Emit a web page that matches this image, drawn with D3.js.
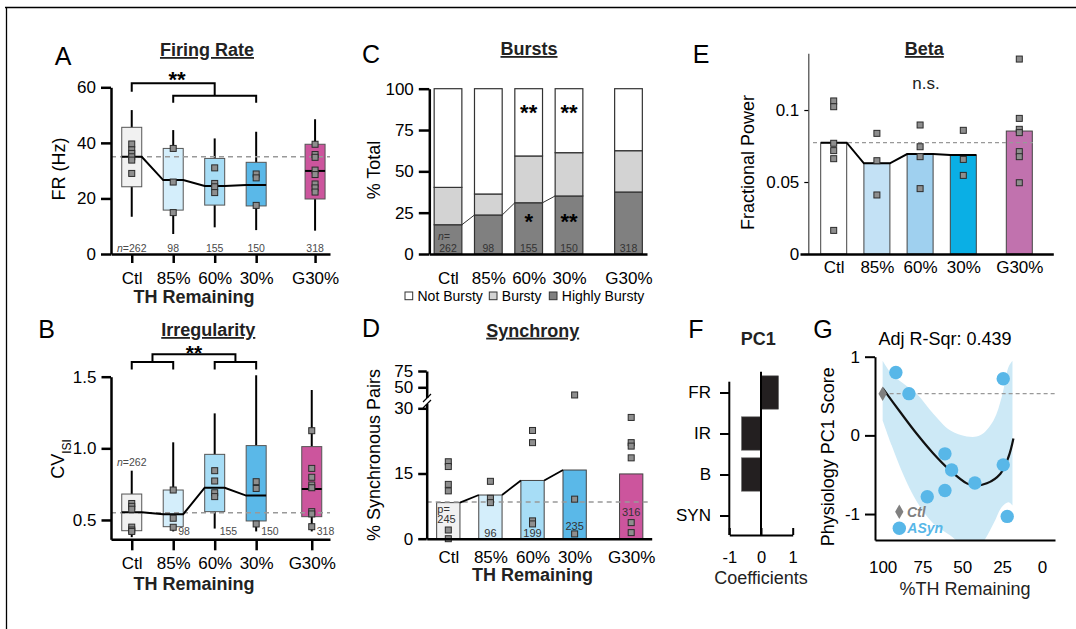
<!DOCTYPE html>
<html>
<head>
<meta charset="utf-8">
<title>TH remaining physiology</title>
<script src="https://cdn.jsdelivr.net/npm/d3@7/dist/d3.min.js"></script>
<style>
  body { margin: 0; background: #fff; }
  svg text { font-family: "Liberation Sans", Arial, Helvetica, sans-serif; }
</style>
</head>
<body>
<svg id="fig" width="1076" height="629"></svg>
<script>
// ---- values ----
var groups = ["Ctl", "85%", "60%", "30%", "G30%"];
var cellN = [262, 98, 155, 150, 318];

// A: firing rate (Hz)
var frLo  = [13.4, 7.2, 9.6, 8.6, 8.4];
var frQ1  = [24.2, 15.8, 17.6, 17.3, 19.8];
var frMed = [35.0, 26.6, 24.5, 24.8, 29.9];
var frQ3  = [45.6, 38.0, 34.4, 33.0, 39.5];
var frHi  = [51.8, 44.6, 41.6, 44.0, 48.5];
var frDots = [[39.6, 37.5, 36.2, 35, 33.8, 29], [38, 25.9, 14.9], [31, 25.4, 24.2, 22.1],
              [28.8, 27.4, 17.5], [39.5, 35.8, 34.8, 30.2, 28.6, 25.2, 23.8, 22.3]];
var frRef = 35;

// B: CV of ISI
var cvLo  = [0.38, 0.42, 0.44, 0.42, 0.42];
var cvQ1  = [0.425, 0.453, 0.558, 0.493, 0.523];
var cvMed = [0.553, 0.54, 0.725, 0.67, 0.716];
var cvQ3  = [0.681, 0.709, 0.958, 1.019, 1.012];
var cvHi  = [0.844, 1.042, 1.244, 1.51, 1.407];
var cvDots = [[0.615, 0.595, 0.575, 0.45, 0.43, 0.42], [0.709, 0.512, 0.449], [0.844, 0.772, 0.69, 0.663],
              [0.767, 0.72, 0.472], [1.123, 0.86, 0.798, 0.744, 0.725, 0.558, 0.542, 0.453]];
var cvRef = 0.55;

// C: burst classes (% of cells)
var highlyBursty = [17.7, 23.6, 31.0, 35.1, 37.5];
var bursty       = [22.6, 12.7, 28.3, 26.2, 25.0];
var notBursty    = [59.7, 63.7, 40.7, 38.7, 37.5];
var burstClasses = ["Not Bursty", "Bursty", "Highly Bursty"];

// D: synchronous pairs (%)
var syncMean = [8.3, 10.05, 13.4, 15.8, 14.9];
var syncDots = [[17.7, 16.6, 12.5, 11, 2, 0], [13.2, 9.3, 8.3], [24.9, 22.1, 4.1, 3.4],
                [42.7, 9.1, 1.1], [27.9, 22.1, 21.3, 18.6, 3.7, 1.4]];
var pairN = [245, 96, 199, 235, 316];
var syncRef = 8.44;

// E: beta fractional power
var betaMean = [0.0773, 0.063, 0.0694, 0.0688, 0.0854];
var betaDots = [[0.1063, 0.1023, 0.0769, 0.0718, 0.0662, 0.0164], [0.0838, 0.0648, 0.041],
                [0.0896, 0.0745, 0.0676, 0.0454], [0.0859, 0.0657, 0.0546],
                [0.1354, 0.0942, 0.0866, 0.0843, 0.0711, 0.0676, 0.0495]];
var betaRef = 0.0773;

// F: PC1 coefficients
var pcVars = ["FR", "IR", "B", "SYN"];
var pcCoef = [0.55, -0.61, -0.61, 0];

// G: PC1 score vs %TH remaining
var ctlPct = [100];
var ctlScore = [0.53];
var asynPct   = [91.7, 83.5, 60.9, 56.7, 60.9, 72.0, 42.1, 24.3, 24.3, 21.8];
var asynScore = [0.80, 0.53, -0.235, -0.44, -0.70, -0.78, -0.605, 0.72, -0.375, -1.03];
var fitPct   = [100, 89.1, 78.6, 68.2, 57.7, 47.2, 42, 34.6, 26.2, 21, 17.9];
var fitScore = [0.6, 0.30, 0.02, -0.23, -0.445, -0.61, -0.64, -0.61, -0.49, -0.275, -0.04];
var bandPct  = [100, 94.3, 87, 78.6, 68.2, 57.7, 47.2, 38.8, 30.4, 25.2, 21, 18.5];
var bandHi   = [0.95, 0.78, 0.66, 0.53, 0.275, 0.064, -0.013, 0, 0.19, 0.49, 0.87, 0.95];
var bandLo   = [0.19, -0.13, -0.5, -0.84, -1.12, -1.27, -1.42, -1.39, -1.12, -0.91, -0.85, -0.89];
var adjR2 = 0.439;

// ---- styles ----
var boxFill  = ["#f1f1f1", "#d4eefb", "#a7ddf6", "#5ab8e8", "#cc559d"];
var betaFill = ["#ffffff", "#c3e1f5", "#9fd0ef", "#0aafe5", "#c172ae"];
var burstFill = {"Not Bursty": "#ffffff", "Bursty": "#d3d3d3", "Highly Bursty": "#808080"};
var asynBlue = "#58b7e8";
var FS = 17;
var plainNum = function (d) { return String(d); };

var svg = d3.select("#fig");

// figure frame (top and left rules)
svg.append("path")
    .attr("d", "M5,7.5 H1076 M6.5,7 V629")
    .attr("fill", "none").attr("stroke", "#000").attr("stroke-width", 1.3);

function styleAxis(sel, lw, fs) {
    sel.attr("font-family", null).attr("font-size", fs || FS);
    sel.select(".domain").attr("stroke", "#000").attr("stroke-width", lw);
    sel.selectAll(".tick line").attr("stroke", "#000").attr("stroke-width", lw);
    sel.selectAll(".tick text").attr("fill", "#000");
    return sel;
}

function panelLetter(t, x, y) {
    svg.append("text").attr("x", x).attr("y", y).attr("text-anchor", "middle")
        .attr("font-size", 25).text(t);
}

function title(t, x, y, under) {
    svg.append("text").attr("x", x).attr("y", y).attr("text-anchor", "middle")
        .attr("font-size", 18).attr("font-weight", "bold").attr("fill", "#222")
        .style("text-decoration", under ? "underline" : null).text(t);
}

function yLabel(t, x, y, fs) {
    return svg.append("text").attr("transform", "translate(" + x + "," + y + ") rotate(-90)")
        .attr("dy", "0.35em").attr("text-anchor", "middle").attr("font-size", fs || 18).text(t);
}

function xLabel(t, x, y, bold) {
    svg.append("text").attr("x", x).attr("y", y).attr("text-anchor", "middle")
        .attr("font-size", 18).attr("font-weight", bold ? "bold" : null).attr("fill", "#222").text(t);
}

function stars(t, x, yc, fs) {
    fs = fs || 22;
    svg.append("text").attr("x", x).attr("y", yc + fs * 0.57).attr("text-anchor", "middle")
        .attr("font-size", fs).attr("font-weight", "bold").text(t);
}

function bracket(x1, x2, y, leg1, leg2) {
    svg.append("path")
        .attr("d", "M" + x1 + "," + (y + leg1) + " V" + y + " H" + x2 + " V" + (y + leg2))
        .attr("fill", "none").attr("stroke", "#000").attr("stroke-width", 2);
}

function drawDots(g, cx, y, dots) {
    var flat = [];
    dots.forEach(function (arr, i) {
        arr.forEach(function (v) { flat.push({i: i, v: v}); });
    });
    g.selectAll(".dot").data(flat).enter().append("rect")
        .attr("class", "dot")
        .attr("x", function (d) { return cx(d.i) - 3; })
        .attr("y", function (d) { return y(d.v) - 3; })
        .attr("width", 6).attr("height", 6)
        .attr("fill", "#8e8e8e").attr("stroke", "#2b2b2b").attr("stroke-width", 1);
}

function refLine(g, x1, x2, yv, w, dash) {
    g.append("line").attr("x1", x1).attr("x2", x2).attr("y1", yv).attr("y2", yv)
        .attr("stroke", "#999").attr("stroke-width", w || 1.6).attr("stroke-dasharray", dash || "5,4");
}

function catAxis(x, y0, slots, tick, pad, lw) {
    var ax = d3.axisBottom(x).tickValues(slots)
        .tickFormat(function (d, i) { return groups[i]; })
        .tickSizeOuter(0).tickSizeInner(tick).tickPadding(pad);
    return styleAxis(svg.append("g").attr("transform", "translate(0," + y0 + ")").call(ax), lw);
}

function boxPanel(x, y, slots, lo, q1, med, q3, hi, dots, ref, hw) {
    var g = svg.append("g");
    var cx = function (i) { return x(slots[i]); };
    var ymin = y.domain()[0];
    g.selectAll(".whisker").data(groups).enter().append("line")
        .attr("x1", function (d, i) { return cx(i); })
        .attr("x2", function (d, i) { return cx(i); })
        .attr("y1", function (d, i) { return y(Math.max(lo[i], ymin)); })
        .attr("y2", function (d, i) { return y(hi[i]); })
        .attr("stroke", "#000").attr("stroke-width", 2);
    g.selectAll(".box").data(groups).enter().append("rect")
        .attr("x", function (d, i) { return cx(i) - hw; })
        .attr("y", function (d, i) { return y(q3[i]); })
        .attr("width", hw * 2)
        .attr("height", function (d, i) { return y(q1[i]) - y(q3[i]); })
        .attr("fill", function (d, i) { return boxFill[i]; })
        .attr("stroke", "#555").attr("stroke-width", 1);
    refLine(g, x.range()[0], x.range()[1], y(ref));
    var pts = [];
    for (var i = 0; i < 4; i++) {
        pts.push([cx(i) - hw, y(med[i])], [cx(i) + hw, y(med[i])]);
    }
    g.append("path").attr("d", d3.line()(pts))
        .attr("fill", "none").attr("stroke", "#000").attr("stroke-width", 2);
    g.append("line").attr("x1", cx(4) - hw).attr("x2", cx(4) + hw)
        .attr("y1", y(med[4])).attr("y2", y(med[4]))
        .attr("stroke", "#000").attr("stroke-width", 2);
    drawDots(g, cx, y, dots);
    return g;
}

function nText(g, x, y, n, italicN, anchor) {
    var t = g.append("text").attr("x", x).attr("y", y).attr("dy", "0.35em")
        .attr("text-anchor", anchor || "middle").attr("font-size", 10.5).attr("fill", "#4a4a4a");
    if (italicN) {
        t.append("tspan").attr("font-style", "italic").text("n");
        t.append("tspan").text("=" + n);
    } else {
        t.text(n);
    }
}

// ================= A: Firing rate =================
(function () {
    var x = d3.scaleLinear().domain([-0.5, 4.78]).range([111, 330]);
    var y = d3.scaleLinear().domain([0, 60]).range([254, 87.3]);
    var slots = [0, 1, 2, 3, 4.42];
    var g = boxPanel(x, y, slots, frLo, frQ1, frMed, frQ3, frHi, frDots, frRef, 10);
    styleAxis(svg.append("g").attr("transform", "translate(111,0)")
        .call(d3.axisLeft(y).tickValues([0, 20, 40, 60]).tickSizeOuter(0).tickSizeInner(10).tickPadding(5)), 2.5);
    catAxis(x, 254, slots, 9, 9.3, 2.5);
    cellN.forEach(function (n, i) { nText(g, x(slots[i]), 248, n, i === 0); });
    panelLetter("A", 63, 65);
    title("Firing Rate", 207, 56, true);
    yLabel("FR (Hz)", 59, 169);
    xLabel("TH Remaining", x(1.5), 303, true);
    bracket(x(0), x(2), 83.3, 8.4, 12.4);
    bracket(x(1), x(3), 95.7, 7, 7);
    stars("**", 177, 74);
})();

// ================= B: Irregularity =================
(function () {
    var x = d3.scaleLinear().domain([-0.5, 4.78]).range([111, 330]);
    var y = d3.scaleLinear().domain([0.365, 1.5]).range([539.3, 376.7]);
    var slots = [0, 1, 2, 3, 4.34];
    var g = boxPanel(x, y, slots, cvLo, cvQ1, cvMed, cvQ3, cvHi, cvDots, cvRef, 10);
    styleAxis(svg.append("g").attr("transform", "translate(111,0)")
        .call(d3.axisLeft(y).tickValues([0.5, 1.0, 1.5]).tickFormat(d3.format(".1f"))
            .tickSizeOuter(0).tickSizeInner(9.5).tickPadding(5)), 2.5);
    catAxis(x, 539.3, slots, 11, 6.7, 2.5);
    nText(g, x(0), 462.7, cellN[0], true);
    for (var i = 1; i < 5; i++) nText(g, x(slots[i]) + 5, 531.7, cellN[i], false, "start");
    panelLetter("B", 46.7, 338);
    title("Irregularity", 208.3, 336, true);
    var lab = yLabel("", 57.5, 459);
    lab.append("tspan").text("CV");
    lab.append("tspan").attr("font-size", 12).attr("baseline-shift", "sub").text("ISI");
    xLabel("TH Remaining", x(1.5), 589.5, true);
    bracket(x(0), x(1), 362, 7.5, 7.5);
    bracket(x(2), x(3), 362, 7.5, 7.5);
    bracket(x(0.5), x(2.5), 354.3, 7.7, 7.7);
    stars("**", 194, 348, 21);
})();

// ================= C: Bursts =================
(function () {
    var x = d3.scaleLinear().domain([-0.464, 4.934]).range([429.3, 647]);
    var y = d3.scaleLinear().domain([0, 100]).range([254, 88.7]);
    var slots = [0, 1, 2, 3, 4.475];
    var bw = 27.7;
    var rows = groups.map(function (gname, i) {
        return {group: gname, i: i, "Highly Bursty": highlyBursty[i], "Bursty": bursty[i], "Not Bursty": notBursty[i]};
    });
    var stack = d3.stack().keys(["Highly Bursty", "Bursty", "Not Bursty"])(rows);
    var g = svg.append("g");
    g.selectAll(".layer").data(stack).enter().append("g")
        .attr("fill", function (d) { return burstFill[d.key]; })
        .selectAll("rect").data(function (d) { return d; }).enter().append("rect")
        .attr("x", function (d) { return x(slots[d.data.i]) - bw / 2; })
        .attr("y", function (d) { return y(d[1]); })
        .attr("width", bw)
        .attr("height", function (d) { return y(d[0]) - y(d[1]); })
        .attr("stroke", "#333").attr("stroke-width", 1.2);
    for (var i = 0; i < 3; i++) {
        g.append("line")
            .attr("x1", x(slots[i]) + bw / 2).attr("y1", y(highlyBursty[i]))
            .attr("x2", x(slots[i + 1]) - bw / 2).attr("y2", y(highlyBursty[i + 1]))
            .attr("stroke", "#333").attr("stroke-width", 1);
    }
    styleAxis(svg.append("g").attr("transform", "translate(429.3,0)")
        .call(d3.axisLeft(y).tickValues([0, 25, 50, 75, 100]).tickSizeOuter(0).tickSizeInner(10.5).tickPadding(5)), 2.5);
    catAxis(x, 254, slots, 0, 18.3, 2.5);
    g.append("text").attr("x", x(0) - 10).attr("y", 236.7).attr("dy", "0.35em")
        .attr("font-size", 10.5).attr("font-style", "italic").attr("fill", "#333").text("n=");
    cellN.forEach(function (n, i) {
        g.append("text").attr("x", x(slots[i])).attr("y", 248.3).attr("dy", "0.35em")
            .attr("text-anchor", "middle").attr("font-size", 10.5).attr("fill", "#333").text(n);
    });
    panelLetter("C", 371, 63.3);
    title("Bursts", 529, 55, true);
    yLabel("% Total", 374, 170);
    stars("**", x(2), 107);
    stars("**", x(3), 107);
    stars("*", x(2), 216);
    stars("**", x(3), 216);
    // legend
    var leg = svg.append("g").attr("font-size", 14);
    var legX = [405, 489.3, 549.3];
    burstClasses.forEach(function (k, i) {
        leg.append("rect").attr("x", legX[i]).attr("y", 292).attr("width", 7.7).attr("height", 7.7)
            .attr("fill", burstFill[k]).attr("stroke", "#333").attr("stroke-width", 1);
        leg.append("text").attr("x", legX[i] + 12.5).attr("y", 296).attr("dy", "0.35em").text(k);
    });
})();

// ================= D: Synchrony =================
(function () {
    var x = d3.scaleLinear().domain([-0.513, 4.83]).range([426.7, 651.7]);
    var y = d3.scaleLinear().domain([0, 30, 50, 75]).range([538.7, 408.3, 387.3, 371]);
    var slots = [0, 1, 2, 3, 4.343];
    var bw = 23.3;
    var g = svg.append("g");
    g.selectAll(".bar").data(syncMean).enter().append("rect")
        .attr("x", function (d, i) { return x(slots[i]) - bw / 2; })
        .attr("y", function (d) { return y(d); })
        .attr("width", bw)
        .attr("height", function (d) { return y(0) - y(d); })
        .attr("fill", function (d, i) { return boxFill[i]; })
        .attr("stroke", "#444").attr("stroke-width", 1);
    refLine(g, x.range()[0], x.range()[1], y(syncRef));
    for (var i = 0; i < 3; i++) {
        g.append("line")
            .attr("x1", x(slots[i]) + bw / 2).attr("y1", y(syncMean[i]))
            .attr("x2", x(slots[i + 1]) - bw / 2).attr("y2", y(syncMean[i + 1]))
            .attr("stroke", "#000").attr("stroke-width", 1.8);
    }
    drawDots(g, function (k) { return x(slots[k]); }, y, syncDots);
    styleAxis(svg.append("g").attr("transform", "translate(426.7,0)")
        .call(d3.axisLeft(y).tickValues([0, 15, 30, 50, 75]).tickSizeOuter(0).tickSizeInner(8.5).tickPadding(5)), 2.5);
    // axis break
    svg.append("rect").attr("x", 422).attr("y", 398).attr("width", 10).attr("height", 6).attr("fill", "#fff");
    svg.append("path").attr("d", "M423,402 L431,394 M423,408 L431,400")
        .attr("stroke", "#000").attr("stroke-width", 1.2);
    catAxis(x, 538.7, slots, 0, 12, 2.5);
    var lab = [{t: "p=", x: 437.3, y: 509, a: "start"}, {t: pairN[0], x: 437.3, y: 519.3, a: "start"},
               {t: pairN[1], x: x(slots[1]), y: 532.7}, {t: pairN[2], x: x(slots[2]), y: 532.7},
               {t: pairN[3], x: x(slots[3]), y: 526}, {t: pairN[4], x: x(slots[4]), y: 512.3}];
    g.selectAll(".nl").data(lab).enter().append("text")
        .attr("x", function (d) { return d.x; }).attr("y", function (d) { return d.y; })
        .attr("dy", "0.35em").attr("text-anchor", function (d) { return d.a || "middle"; })
        .attr("font-size", 11).attr("fill", "#333").text(function (d) { return d.t; });
    panelLetter("D", 371, 336.7);
    title("Synchrony", 532.7, 336.7, true);
    yLabel("% Synchronous Pairs", 374, 455);
    xLabel("TH Remaining", x(2), 581, true);
})();

// ================= E: Beta =================
(function () {
    var x = d3.scaleLinear().domain([-0.78, 5.083]).range([800, 1053.3]);
    var y = d3.scaleLinear().domain([0, 0.1394]).range([254, 53.3]);
    var slots = [0, 1, 2, 3, 4.296];
    var bw = 26;
    var g = svg.append("g");
    g.selectAll(".bar").data(betaMean).enter().append("rect")
        .attr("x", function (d, i) { return x(slots[i]) - bw / 2; })
        .attr("y", function (d) { return y(d); })
        .attr("width", bw)
        .attr("height", function (d) { return y(0) - y(d); })
        .attr("fill", function (d, i) { return betaFill[i]; })
        .attr("stroke", "#444").attr("stroke-width", 1);
    refLine(g, 813, 1033, y(betaRef), 1.2, "4,3");
    var pts = [];
    for (var i = 0; i < 4; i++) {
        pts.push([x(slots[i]) - bw / 2, y(betaMean[i])], [x(slots[i]) + bw / 2, y(betaMean[i])]);
    }
    g.append("path").attr("d", d3.line()(pts)).attr("fill", "none")
        .attr("stroke", "#000").attr("stroke-width", 2);
    drawDots(g, function (k) { return x(slots[k]); }, y, betaDots);
    var ya = svg.append("g").attr("transform", "translate(808.3,0)")
        .call(d3.axisLeft(y).tickValues([0, 0.05, 0.1]).tickFormat(plainNum)
            .tickSizeOuter(0).tickSizeInner(4).tickPadding(5));
    styleAxis(ya, 1.2);
    ya.select(".domain").attr("stroke", "#444");
    catAxis(x, 254, slots, 0, 6.7, 2.5);
    panelLetter("E", 701, 63.3);
    title("Beta", 924.3, 55, true);
    svg.append("text").attr("x", 926).attr("y", 82.7).attr("dy", "0.35em").attr("text-anchor", "middle")
        .attr("font-size", 17).attr("fill", "#222").text("n.s.");
    yLabel("Fractional Power", 747.5, 162.5);
})();

// ================= F: PC1 coefficients =================
(function () {
    var x = d3.scaleLinear().domain([-1, 1]).range([729.3, 792.7]);
    var y = d3.scalePoint().domain(pcVars).range([372, 536]).padding(0.5);
    var bh = 33.3;
    var g = svg.append("g");
    g.selectAll(".bar").data(pcCoef).enter().append("rect")
        .attr("x", function (d) { return x(Math.min(0, d)); })
        .attr("y", function (d, i) { return y(pcVars[i]) - bh / 2; })
        .attr("width", function (d) { return Math.abs(x(d) - x(0)); })
        .attr("height", bh)
        .attr("fill", "#231f20").attr("stroke", "#555").attr("stroke-width", 0.6);
    g.append("line").attr("x1", x(0)).attr("x2", x(0)).attr("y1", 371.7).attr("y2", 535)
        .attr("stroke", "#000").attr("stroke-width", 2);
    var ya = styleAxis(svg.append("g").attr("transform", "translate(729.3,0)")
        .call(d3.axisLeft(y).tickSizeOuter(0).tickSizeInner(9.3).tickPadding(9)), 2);
    ya.select(".domain").attr("d", "M0,381.7 V535");
    styleAxis(svg.append("g").attr("transform", "translate(0,535)")
        .call(d3.axisBottom(x).tickValues([-1, 0, 1]).tickFormat(plainNum)
            .tickSizeOuter(0).tickSizeInner(-7).tickPadding(16.5)), 2, 16.5);
    panelLetter("F", 696, 338.3);
    title("PC1", 758.3, 345, false);
    xLabel("Coefficients", 761, 584);
})();

// ================= G: PC1 score vs TH =================
(function () {
    var x = d3.scaleLinear().domain([104.8, -8.2]).range([875, 1055]);
    var y = d3.scaleLinear().domain([-1.33, 1]).range([540, 356.7]);
    var g = svg.append("g");
    svg.append("clipPath").attr("id", "clipG").append("rect")
        .attr("x", 875).attr("y", 300).attr("width", 180).attr("height", 240);
    var band = bandPct.map(function (p, i) { return {p: p, lo: bandLo[i], hi: bandHi[i]}; });
    g.append("path").datum(band)
        .attr("clip-path", "url(#clipG)")
        .attr("d", d3.area().curve(d3.curveCatmullRom)
            .x(function (d) { return x(d.p); })
            .y0(function (d) { return y(d.lo); })
            .y1(function (d) { return y(d.hi); }))
        .attr("fill", "#cde9f6");
    refLine(g, x(100), 1055, y(ctlScore[0]), 1.2, "4,3");
    var fit = fitPct.map(function (p, i) { return [x(p), y(fitScore[i])]; });
    g.append("path").attr("d", d3.line().curve(d3.curveCatmullRom)(fit))
        .attr("fill", "none").attr("stroke", "#111").attr("stroke-width", 2.2);
    g.selectAll(".asyn").data(asynPct).enter().append("circle")
        .attr("cx", function (d) { return x(d); })
        .attr("cy", function (d, i) { return y(asynScore[i]); })
        .attr("r", 6.7).attr("fill", asynBlue);
    g.selectAll(".ctl").data(ctlPct).enter().append("path")
        .attr("transform", function (d, i) { return "translate(" + x(d) + "," + y(ctlScore[i]) + ")"; })
        .attr("d", d3.symbol().type(d3.symbolDiamond).size(60))
        .attr("fill", "#808080");
    styleAxis(svg.append("g").attr("transform", "translate(875,0)")
        .call(d3.axisLeft(y).tickValues([-1, 0, 1]).tickFormat(plainNum)
            .tickSizeOuter(0).tickSizeInner(10).tickPadding(5)), 2);
    styleAxis(svg.append("g").attr("transform", "translate(0,540)")
        .call(d3.axisBottom(x).tickValues([100, 75, 50, 25, 0]).tickFormat(plainNum)
            .tickSizeOuter(0).tickSizeInner(0).tickPadding(20.7)), 2);
    // legend
    g.append("path").attr("transform", "translate(899.3,511.7)")
        .attr("d", d3.symbol().type(d3.symbolDiamond).size(60)).attr("fill", "#808080");
    g.append("text").attr("x", 907).attr("y", 511.7).attr("dy", "0.35em").attr("font-size", 14)
        .attr("font-weight", "bold").attr("font-style", "italic").attr("fill", "#808080").text("Ctl");
    g.append("circle").attr("cx", 899.3).attr("cy", 528.3).attr("r", 6.7).attr("fill", asynBlue);
    g.append("text").attr("x", 907.3).attr("y", 528.3).attr("dy", "0.35em").attr("font-size", 14)
        .attr("font-weight", "bold").attr("font-style", "italic").attr("fill", asynBlue).text("ASyn");
    panelLetter("G", 823, 338.3);
    svg.append("text").attr("x", 945).attr("y", 344.5).attr("text-anchor", "middle")
        .attr("font-size", 18).text("Adj R-Sqr: " + adjR2);
    yLabel("Physiology PC1 Score", 828, 456.7);
    xLabel("%TH Remaining", 965, 594.5, false);
})();
</script>
</body>
</html>
